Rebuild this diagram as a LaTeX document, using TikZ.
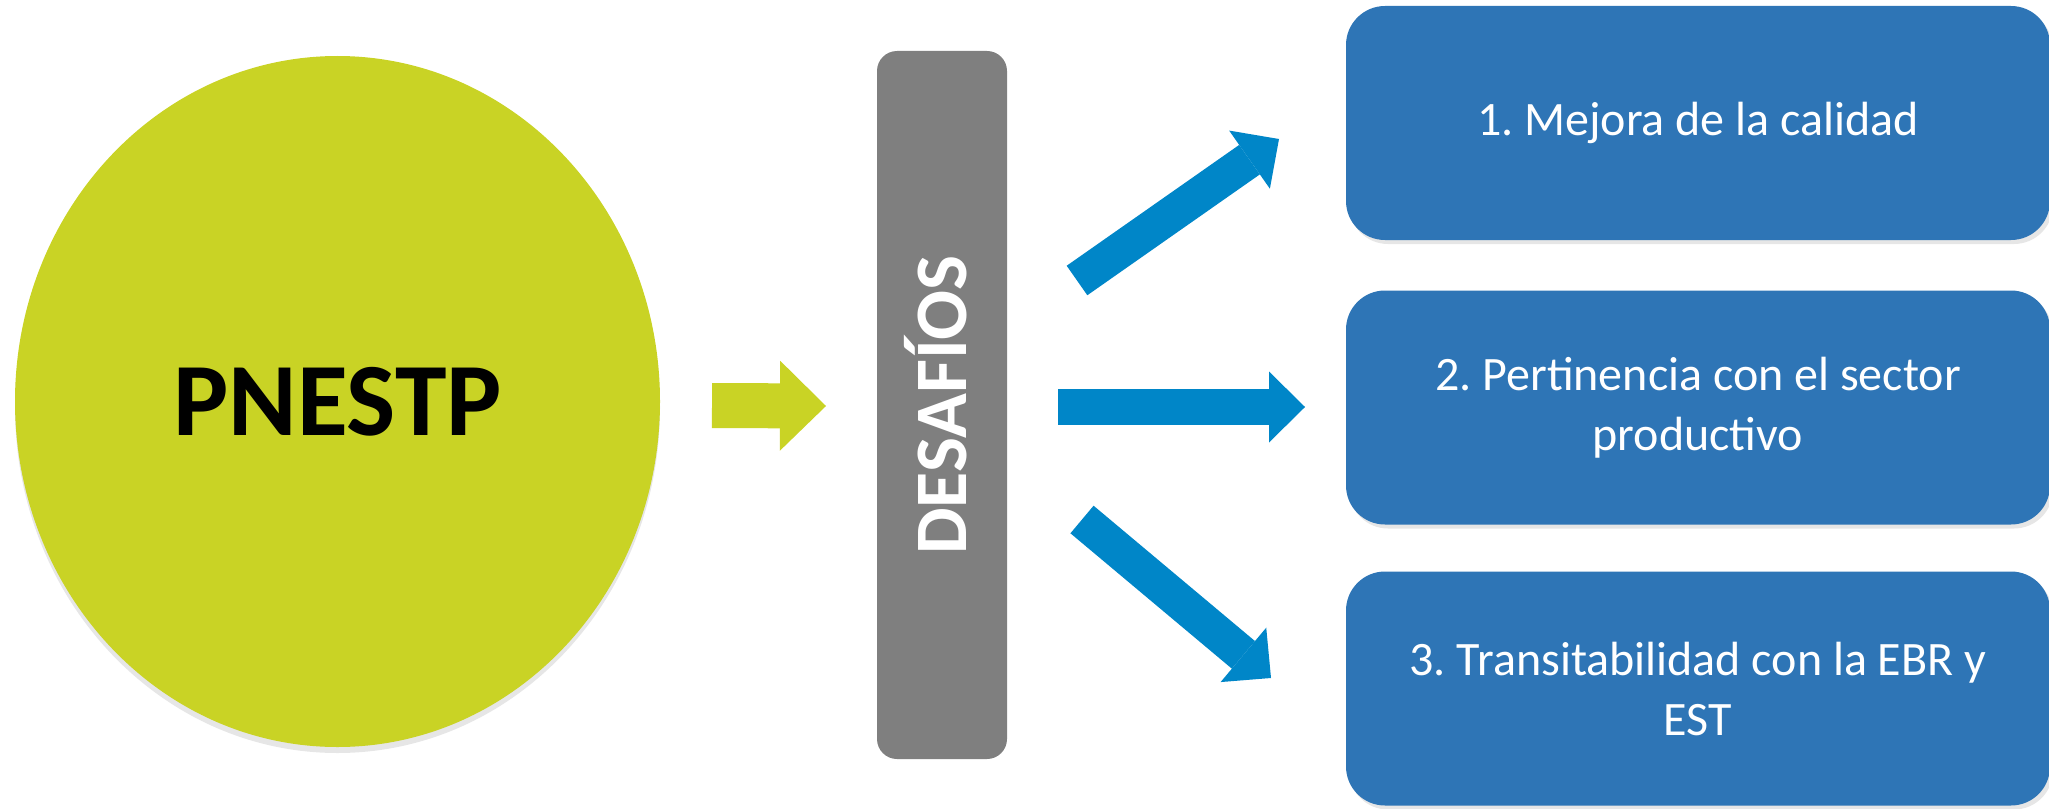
\documentclass[tikz,border=0pt]{standalone}
\usepackage{fontspec}
\setmainfont{Carlito}
\usepackage{xcolor}
\usepackage{tikz}
\usetikzlibrary{arrows.meta}
\usetikzlibrary{shapes.geometric}
\usetikzlibrary{shadows}
\definecolor{lime}{RGB}{201,211,37}
\definecolor{steel}{RGB}{46,117,182}
\definecolor{cyanblue}{RGB}{0,134,200}
\definecolor{bargray}{RGB}{127,127,127}
\frenchspacing

\begin{document}
\begin{tikzpicture}[x=0.5pt,y=-0.5pt,
	reto/.style={rectangle,rounded corners=19.5pt,fill=steel,text=white,align=center,
		font=\fontsize{24}{30}\selectfont,minimum width=352pt,minimum height=117pt,inner sep=0pt,
		drop shadow={shadow xshift=1.5pt,shadow yshift=-2pt,opacity=.2}},
	bigarrow/.style={line width=18pt,draw=cyanblue,-{Triangle[length=18pt,width=35.5pt,line width=0pt]}}]
	
	\useasboundingbox (0,0) rectangle (2049,808);
	
	\node [ellipse,fill=lime,minimum width=322.5pt,minimum height=345.5pt,inner sep=0pt,
		font=\fontsize{52}{60}\selectfont\bfseries,
		drop shadow={shadow xshift=0pt,shadow yshift=-3pt,opacity=.2}] (pnestp) at (337.5,401.5) {PNESTP};
	
	\node [rectangle,rounded corners=10pt,fill=bargray,rotate=90,minimum width=354pt,minimum height=65pt,
		inner sep=0pt,text=white,font=\fontsize{37}{40}\selectfont\bfseries,
		text height=24pt,text depth=0pt] (desafios) at (942,405) {DESAFÍOS};
	
	\node [reto] (calidad) at (1698,123) {1. Mejora de la calidad};
	\node [reto] (pertinencia) at (1698,407.5) {2. Pertinencia con el sector\\productivo};
	\node [reto] (transita) at (1698,688.5) {3. Transitabilidad con la EBR y\\EST};
	
	% green arrow
	\coordinate [] (gtail) at (712,405.5);
	\coordinate [] (gtip) at (826,406);
	\draw[line width=22.5pt,draw=lime,-{Triangle[length=23pt,width=45pt,line width=0pt]}] (gtail)--(gtip);
	
	% blue arrows
	\coordinate [] (tail1) at (1077,280.5);
	\coordinate [] (tip1) at (1279,139);
	\coordinate [] (tail2) at (1058,407);
	\coordinate [] (tip2) at (1305,407);
	\coordinate [] (tail3) at (1082,519.5);
	\coordinate [] (tip3) at (1271,678);
	
	\draw[bigarrow] (tail1)--(tip1);
	\draw[bigarrow] (tail2)--(tip2);
	\draw[bigarrow] (tail3)--(tip3);
	
\end{tikzpicture}
\end{document}
